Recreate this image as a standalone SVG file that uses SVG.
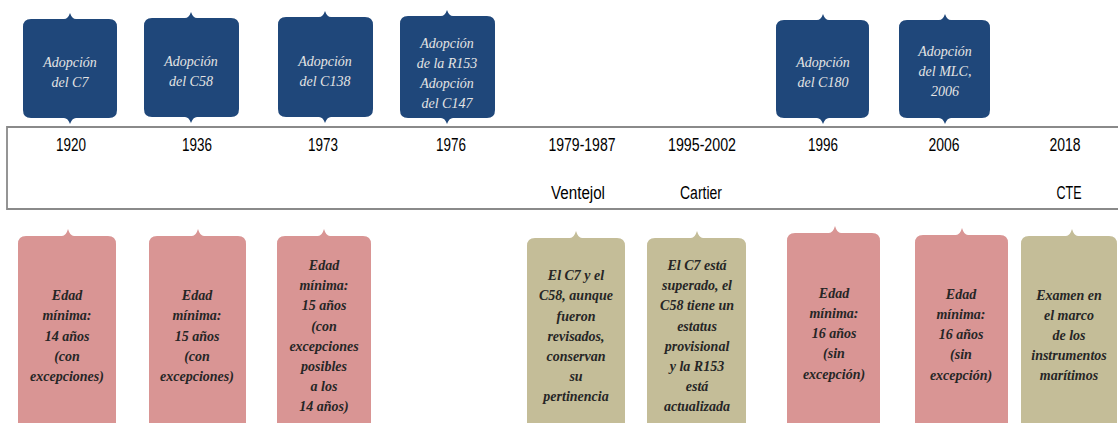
<svg xmlns="http://www.w3.org/2000/svg" width="1118" height="423" viewBox="0 0 1118 423">
<style>
.top{fill:#1F477A;}
.pink{fill:#D99594;}
.tan{fill:#C4BD98;}
.tt{font-family:"Liberation Serif",serif;font-style:italic;font-size:14px;fill:#E4E4E4;text-anchor:middle;}
.bt{font-family:"Liberation Serif",serif;font-style:italic;font-weight:bold;font-size:14px;fill:#262626;text-anchor:middle;}
.yr{font-family:"Liberation Sans",sans-serif;font-size:18px;fill:#000;text-anchor:middle;}
</style>
<rect width="1118" height="423" fill="#fff"/>
<g id="timeline">
<path d="M1118,127 H7 V209 H1118" fill="none" stroke="#8a8a8a" stroke-width="1.8"/>
<text class="yr" x="71" y="151" textLength="30" lengthAdjust="spacingAndGlyphs">1920</text>
<text class="yr" x="197" y="151" textLength="30" lengthAdjust="spacingAndGlyphs">1936</text>
<text class="yr" x="323" y="151" textLength="30" lengthAdjust="spacingAndGlyphs">1973</text>
<text class="yr" x="451" y="151" textLength="30" lengthAdjust="spacingAndGlyphs">1976</text>
<text class="yr" x="582" y="151" textLength="67" lengthAdjust="spacingAndGlyphs">1979-1987</text>
<text class="yr" x="702" y="151" textLength="68" lengthAdjust="spacingAndGlyphs">1995-2002</text>
<text class="yr" x="823" y="151" textLength="30" lengthAdjust="spacingAndGlyphs">1996</text>
<text class="yr" x="944" y="151" textLength="31" lengthAdjust="spacingAndGlyphs">2006</text>
<text class="yr" x="1065" y="151" textLength="31" lengthAdjust="spacingAndGlyphs">2018</text>
<text class="yr" x="578" y="199" textLength="54" lengthAdjust="spacingAndGlyphs">Ventejol</text>
<text class="yr" x="701" y="199" textLength="42" lengthAdjust="spacingAndGlyphs">Cartier</text>
<text class="yr" x="1069" y="199" textLength="25" lengthAdjust="spacingAndGlyphs">CTE</text>
</g>
<g id="top-1920">
<path class="top" d="M31,19 H64 Q68,19 70,13 Q72,19 76,19 H109 Q117,19 117,27 V110 Q117,118 109,118 H76 Q72,118 70,124 Q68,118 64,118 H31 Q23,118 23,110 V27 Q23,19 31,19 Z"/>
<text class="tt" x="70" y="67">Adopción</text>
<text class="tt" x="70" y="87">del C7</text>
</g>
<g id="top-1936">
<path class="top" d="M152,18 H185 Q189,18 191,12 Q193,18 197,18 H231 Q239,18 239,26 V109 Q239,117 231,117 H197 Q193,117 191,123 Q189,117 185,117 H152 Q144,117 144,109 V26 Q144,18 152,18 Z"/>
<text class="tt" x="191" y="66">Adopción</text>
<text class="tt" x="191" y="86">del C58</text>
</g>
<g id="top-1973">
<path class="top" d="M286,17 H319 Q323,17 325,11 Q327,17 331,17 H365 Q373,17 373,25 V109 Q373,117 365,117 H331 Q327,117 325,123 Q323,117 319,117 H286 Q278,117 278,109 V25 Q278,17 286,17 Z"/>
<text class="tt" x="325" y="66">Adopción</text>
<text class="tt" x="325" y="86">del C138</text>
</g>
<g id="top-1976">
<path class="top" d="M408,16 H441 Q445,16 447,10 Q449,16 453,16 H487 Q495,16 495,24 V110 Q495,118 487,118 H453 Q449,118 447,124 Q445,118 441,118 H408 Q400,118 400,110 V24 Q400,16 408,16 Z"/>
<text class="tt" x="447" y="48">Adopción</text>
<text class="tt" x="447" y="68">de la R153</text>
<text class="tt" x="447" y="88">Adopción</text>
<text class="tt" x="447" y="108">del C147</text>
</g>
<g id="top-1996">
<path class="top" d="M784,20 H817 Q821,20 823,14 Q825,20 829,20 H861 Q869,20 869,28 V110 Q869,118 861,118 H829 Q825,118 823,124 Q821,118 817,118 H784 Q776,118 776,110 V28 Q776,20 784,20 Z"/>
<text class="tt" x="823" y="67">Adopción</text>
<text class="tt" x="823" y="87">del C180</text>
</g>
<g id="top-2006">
<path class="top" d="M907,20 H939 Q943,20 945,14 Q947,20 951,20 H982 Q990,20 990,28 V110 Q990,118 982,118 H951 Q947,118 945,124 Q943,118 939,118 H907 Q899,118 899,110 V28 Q899,20 907,20 Z"/>
<text class="tt" x="945" y="56">Adopción</text>
<text class="tt" x="945" y="76">del MLC,</text>
<text class="tt" x="945" y="96">2006</text>
</g>
<g id="bottom-1920">
<path class="pink" d="M26,236 H62 Q66,236 68,229 Q70,236 74,236 H108 Q116,236 116,244 V440 H18 V244 Q18,236 26,236 Z"/>
<text class="bt" x="67" y="300">Edad</text>
<text class="bt" x="67" y="320">mínima:</text>
<text class="bt" x="67" y="341">14 años</text>
<text class="bt" x="67" y="361">(con</text>
<text class="bt" x="67" y="381">excepciones)</text>
</g>
<g id="bottom-1936">
<path class="pink" d="M157,236 H192 Q196,236 198,229 Q200,236 204,236 H238 Q246,236 246,244 V440 H149 V244 Q149,236 157,236 Z"/>
<text class="bt" x="197" y="300">Edad</text>
<text class="bt" x="197" y="320">mínima:</text>
<text class="bt" x="197" y="341">15 años</text>
<text class="bt" x="197" y="361">(con</text>
<text class="bt" x="197" y="381">excepciones)</text>
</g>
<g id="bottom-1973">
<path class="pink" d="M285,236 H318 Q322,236 324,229 Q326,236 330,236 H363 Q371,236 371,244 V440 H277 V244 Q277,236 285,236 Z"/>
<text class="bt" x="324" y="270">Edad</text>
<text class="bt" x="324" y="290">mínima:</text>
<text class="bt" x="324" y="310">15 años</text>
<text class="bt" x="324" y="331">(con</text>
<text class="bt" x="324" y="351">excepciones</text>
<text class="bt" x="324" y="371">posibles</text>
<text class="bt" x="324" y="391">a los</text>
<text class="bt" x="324" y="411">14 años)</text>
</g>
<g id="bottom-ventejol">
<path class="tan" d="M535,238 H570 Q574,238 576,231 Q578,238 582,238 H617 Q625,238 625,246 V440 H527 V246 Q527,238 535,238 Z"/>
<text class="bt" x="576" y="280">El C7 y el</text>
<text class="bt" x="576" y="300">C58, aunque</text>
<text class="bt" x="576" y="321">fueron</text>
<text class="bt" x="576" y="341">revisados,</text>
<text class="bt" x="576" y="361">conservan</text>
<text class="bt" x="576" y="381">su</text>
<text class="bt" x="576" y="401">pertinencia</text>
</g>
<g id="bottom-cartier">
<path class="tan" d="M655,238 H691 Q695,238 697,231 Q699,238 703,238 H738 Q746,238 746,246 V440 H647 V246 Q647,238 655,238 Z"/>
<text class="bt" x="697" y="270">El C7 está</text>
<text class="bt" x="697" y="290">superado, el</text>
<text class="bt" x="697" y="310">C58 tiene un</text>
<text class="bt" x="697" y="331">estatus</text>
<text class="bt" x="697" y="351">provisional</text>
<text class="bt" x="697" y="371">y la R153</text>
<text class="bt" x="697" y="391">está</text>
<text class="bt" x="697" y="411">actualizada</text>
</g>
<g id="bottom-1996">
<path class="pink" d="M795,233 H829 Q833,233 835,226 Q837,233 841,233 H872 Q880,233 880,241 V440 H787 V241 Q787,233 795,233 Z"/>
<text class="bt" x="834" y="298">Edad</text>
<text class="bt" x="834" y="318">mínima:</text>
<text class="bt" x="834" y="338">16 años</text>
<text class="bt" x="834" y="358">(sin</text>
<text class="bt" x="834" y="379">excepción)</text>
</g>
<g id="bottom-2006">
<path class="pink" d="M923,235 H956 Q960,235 962,228 Q964,235 968,235 H1000 Q1008,235 1008,243 V440 H915 V243 Q915,235 923,235 Z"/>
<text class="bt" x="961" y="299">Edad</text>
<text class="bt" x="961" y="319">mínima:</text>
<text class="bt" x="961" y="339">16 años</text>
<text class="bt" x="961" y="359">(sin</text>
<text class="bt" x="961" y="380">excepción)</text>
</g>
<g id="bottom-2018">
<path class="tan" d="M1029,236 H1066 Q1070,236 1072,229 Q1074,236 1078,236 H1109 Q1117,236 1117,244 V440 H1021 V244 Q1021,236 1029,236 Z"/>
<text class="bt" x="1069" y="300">Examen en</text>
<text class="bt" x="1069" y="320">el marco</text>
<text class="bt" x="1069" y="340">de los</text>
<text class="bt" x="1069" y="360">instrumentos</text>
<text class="bt" x="1069" y="380">marítimos</text>
</g>
</svg>
